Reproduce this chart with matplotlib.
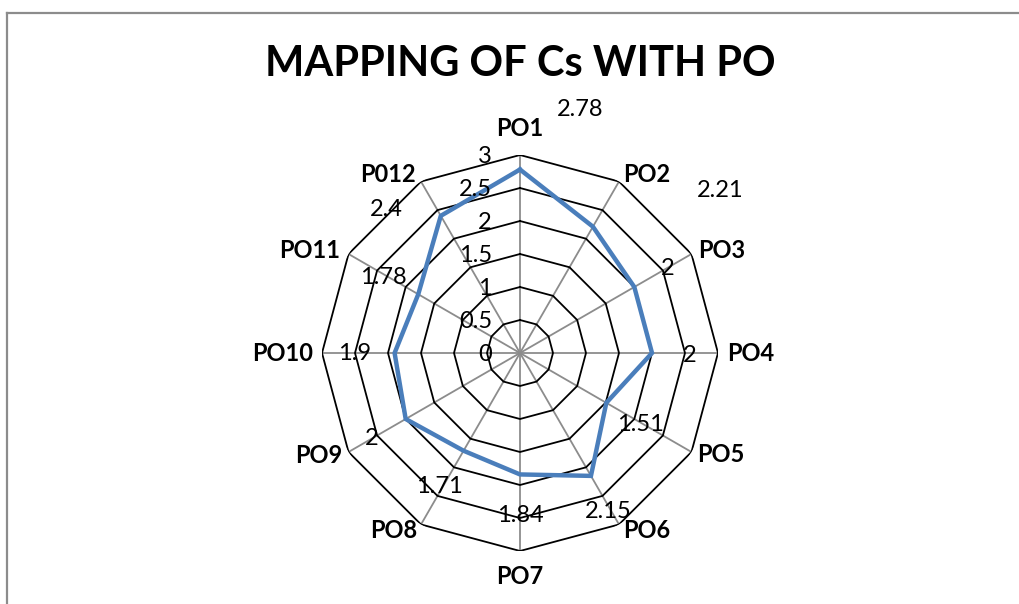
import numpy as np
import matplotlib
matplotlib.use("Agg")
import matplotlib.pyplot as plt
from matplotlib.lines import Line2D

categories = ["PO1", "PO2", "PO3", "PO4", "PO5", "PO6",
              "PO7", "PO8", "PO9", "PO10", "PO11", "P012"]
values = [2.78, 2.21, 2, 2, 1.51, 2.15, 1.84, 1.71, 2, 1.9, 1.78, 2.4]
value_text = ["2.78", "2.21", "2", "2", "1.51", "2.15",
              "1.84", "1.71", "2", "1.9", "1.78", "2.4"]
# data label offsets from each point, in pixels (x right, y up)
label_dx = [60, 127, 33, 38, 34, 17, 0, -24, -34, -40, -35, -54]
label_dy = [60, 36, 19, -2, -22, -36, -41, -36, -19, 0, 17, 6]
# category label offsets from each outer vertex, in pixels, and alignment
cat_dx = [0, 4, 7, 9, 6, 4, 0, -4, -6, -9, -8, -5]
cat_dy = [27, 7, 4, 0, -3, -6, -26, -6, -3, 0, 4, 7]
cat_ha = ["center", "left", "left", "left", "left", "left",
          "center", "right", "right", "right", "right", "right"]
rings = [0, 0.5, 1, 1.5, 2, 2.5, 3]
ring_text = ["0", "0.5", "1", "1.5", "2", "2.5", "3"]

plt.rcParams["font.family"] = ["Lato", "DejaVu Sans"]

W, H = 1020, 604
fig = plt.figure(figsize=(W / 100, H / 100), dpi=100)

# chart area border (left and top visible)
fig.add_artist(Line2D([7.5 / W, 7.5 / W], [0, 1 - 12.5 / H], color="#8c8c8c", lw=1.6,
                      transform=fig.transFigure))
fig.add_artist(Line2D([7.5 / W, 1], [1 - 12.5 / H, 1 - 12.5 / H], color="#8c8c8c", lw=1.6,
                      transform=fig.transFigure))

cx, cy, R = 520, 353, 198
ax = fig.add_axes([(cx - R) / W, 1 - (cy + R) / H, 2 * R / W, 2 * R / H], projection="polar")
ax.set_theta_zero_location("N")
ax.set_theta_direction(-1)
ax.set_ylim(0, 3)
ax.grid(False)
ax.spines["polar"].set_visible(False)
ax.set_xticks([])
ax.set_yticks([])
ax.patch.set_alpha(0)

n = len(categories)
theta = np.arange(n) * 2 * np.pi / n
tc = np.append(theta, theta[0])

# spokes
for t in theta:
    ax.plot([t, t], [0, 3], color="#8c8c8c", lw=1.3, zorder=1)
# polygon rings
for r in rings[1:]:
    ax.plot(tc, [r] * (n + 1), color="black", lw=1.3, zorder=2)

# series
vc = values + values[:1]
ax.plot(tc, vc, color="#4a7ebb", lw=3.2, zorder=4, solid_joinstyle="miter")

# ring value labels
for r, s in zip(rings, ring_text):
    ax.annotate(s, xy=(0, r), xytext=(-28, -1), textcoords="offset pixels",
                ha="right", va="center", fontsize=17, zorder=5)

# data labels
for t, v, s, dx, dy in zip(theta, values, value_text, label_dx, label_dy):
    ax.annotate(s, xy=(t, v), xytext=(dx, dy), textcoords="offset pixels",
                ha="center", va="center", fontsize=17, zorder=5)

# category labels
for t, c, dx, dy, ha in zip(theta, categories, cat_dx, cat_dy, cat_ha):
    ax.annotate(c, xy=(t, 3), xytext=(dx, dy), textcoords="offset pixels",
                ha=ha, va="center", fontsize=17, fontweight="bold")

fig.text(520 / W, 1 - 64 / H, "MAPPING OF Cs WITH PO", ha="center", va="center",
         fontsize=30, fontweight="bold")

fig.savefig("out.png", dpi=100)
